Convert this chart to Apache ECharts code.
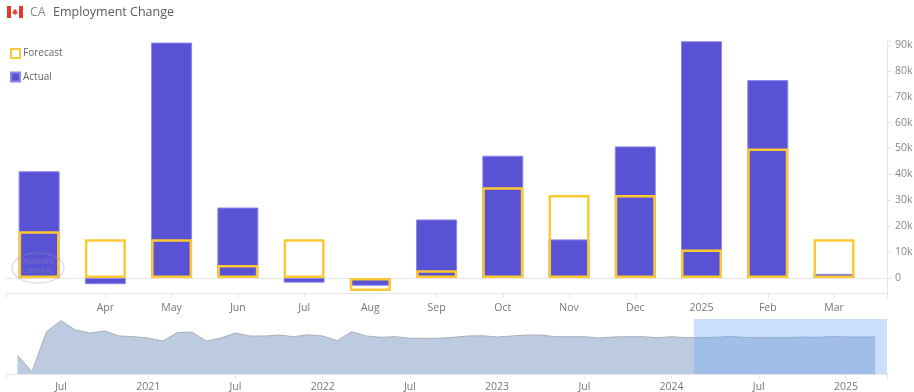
<!DOCTYPE html>
<html><head><meta charset="utf-8">
<style>html,body{margin:0;padding:0;background:#fff}#c{width:914px;height:392px}</style>
<script src="https://cdn.jsdelivr.net/npm/echarts@6/dist/echarts.min.js"></script>
</head><body><div id="c"></div>
<script>
const categories = ['', 'Apr', 'May', 'Jun', 'Jul', 'Aug', 'Sep', 'Oct', 'Nov', 'Dec', '2025', 'Feb', 'Mar'];
const actual = [41.2, -2.4, 90.9, 27.2, -1.8, -3, 22.6, 47.2, 14.9, 50.8, 91.4, 76.4, 1.6];
const forecast = [18, 15, 15, 5, 15, -5, 3, 35, 32, 32, 11, 50, 15];
const yTicks = [0, 10, 20, 30, 40, 50, 60, 70, 80, 90];
// overview strip, monthly from Apr 2020 to Mar 2025
const overview = [19, 2.3, 42.3, 53.3, 44, 41, 43, 38, 37.3, 36, 33, 41.3, 42, 33, 36, 41, 38, 38, 39, 37.3,
  39.3, 38, 33.3, 42.3, 38, 36.7, 37.3, 35.7, 35.7, 35.7, 36.7, 38, 38.3, 37, 38, 39, 39, 37.3, 37.3, 37.3,
  36, 37, 37.3, 37.3, 36.3, 37.3, 36.3, 36.3, 36.6, 37.6, 36.6, 36.3, 36.3, 36.3, 37, 36.5, 37.5, 37, 37, 37];
const overviewTicks = [[3, 'Jul'], [9, '2021'], [15, 'Jul'], [21, '2022'], [27, 'Jul'], [33, '2023'], [39, 'Jul'], [45, '2024'], [51, 'Jul'], [57, '2025']];

const font = '"Open Sans"';
const xMin = -0.5, xMax = 12.8, yMin = -5.8, yMax = 91.5;
const ovMin = -0.784, ovMax = 59.82, selStart = 46.54;
const leaf = [[15,8.5],[16,10.5],[17,10],[16.5,12.5],[18,12],[17.5,13.5],[15.4,14.1],[15.4,15.5],[14.6,15.5],[14.6,14.1],[12.5,13.5],[12,12],[13.5,12.5],[13,10],[14,10.5]];

const chart = echarts.init(document.getElementById('c'), null, {renderer: 'canvas'});
chart.setOption({
  animation: false,
  backgroundColor: '#fff',
  textStyle: {fontFamily: font},
  legend: {
    left: 10, top: 48, padding: 0, orient: 'vertical', icon: 'rect', itemWidth: 9, itemHeight: 9, itemGap: 12.5,
    data: ['Forecast', 'Actual'],
    textStyle: {fontFamily: font, fontSize: 10, color: '#666', padding: [0, 0, 0, -2]}
  },
  grid: [
    {left: 6, right: 27, top: 41, height: 252, outerBoundsMode: 'none'},
    {left: 6, right: 27, top: 319, height: 55, outerBoundsMode: 'none'}
  ],
  xAxis: [
    {
      type: 'value', gridIndex: 0, min: xMin, max: xMax, splitLine: {show: false},
      axisLine: {onZero: false, lineStyle: {color: '#e6e6e6'}},
      axisTick: {length: 5, lineStyle: {color: '#e6e6e6'}, customValues: [xMin].concat(categories.map((c, i) => i).slice(1), [xMax])},
      axisLabel: {
        customValues: categories.map((c, i) => i).slice(1), margin: 10, color: '#777', fontSize: 10.5, fontFamily: font,
        formatter: v => categories[Math.round(v)]
      }
    },
    {
      type: 'value', gridIndex: 1, min: ovMin, max: ovMax, splitLine: {show: false},
      axisLine: {onZero: false, lineStyle: {color: '#e6e6e6'}},
      axisTick: {length: 5, lineStyle: {color: '#e6e6e6'}, customValues: [ovMin].concat(overviewTicks.map(t => t[0]), [ovMax])},
      axisLabel: {
        customValues: overviewTicks.map(t => t[0]), margin: 8, color: '#777', fontSize: 10.5, fontFamily: font,
        formatter: v => (overviewTicks.find(t => t[0] === Math.round(v)) || [0, ''])[1]
      }
    }
  ],
  yAxis: [
    {
      type: 'value', gridIndex: 0, position: 'right', min: yMin, max: yMax, splitLine: {show: false},
      axisLine: {show: true, onZero: false, lineStyle: {color: '#e6e6e6'}},
      axisTick: {show: true, length: 4, lineStyle: {color: '#e6e6e6'}, customValues: yTicks.concat([yMax])},
      axisLabel: {
        customValues: yTicks, margin: 8, color: '#888', fontSize: 10.5, fontFamily: font,
        formatter: v => v === 0 ? '0' : v + 'k'
      }
    },
    {type: 'value', gridIndex: 1, min: 0, max: 55, show: false}
  ],
  series: [
    {
      name: 'Actual', type: 'bar', xAxisIndex: 0, yAxisIndex: 0, barWidth: 41, barGap: '-100%',
      data: actual.map((v, i) => [i, v]), z: 2,
      itemStyle: {color: '#5a52d5', borderColor: '#8a86ea', borderWidth: 1},
      markLine: {
        silent: true, symbol: 'none', label: {show: false}, animation: false, z: 1,
        lineStyle: {color: '#e6e6e6', width: 1, type: 'solid'}, data: [{yAxis: 0}]
      }
    },
    {
      name: 'Forecast', type: 'bar', xAxisIndex: 0, yAxisIndex: 0, barWidth: 41, barGap: '-100%',
      data: forecast.map((v, i) => [i, v]), z: 3,
      itemStyle: {color: 'rgba(255,255,255,0)', borderColor: '#fcc933', borderWidth: 2.5}
    },
    {
      name: 'Overview', type: 'line', xAxisIndex: 1, yAxisIndex: 1, symbol: 'none',
      data: overview.map((v, i) => [i, v]),
      lineStyle: {color: '#a9afba', width: 1},
      areaStyle: {color: '#bccbdf', opacity: 1},
      markArea: {
        silent: true, z: 5, itemStyle: {color: 'rgba(110,165,250,0.36)'},
        data: [[{xAxis: selStart, yAxis: 0}, {xAxis: ovMax, yAxis: 55}]]
      }
    }
  ],
  graphic: [
    {type: 'rect', shape: {x: 7, y: 6, width: 16, height: 12}, style: {fill: '#fff'}},
    {type: 'rect', shape: {x: 7, y: 6, width: 4, height: 12}, style: {fill: '#e03a2e'}},
    {type: 'rect', shape: {x: 19, y: 6, width: 4, height: 12}, style: {fill: '#e03a2e'}},
    {type: 'polygon', shape: {points: leaf}, style: {fill: '#e03a2e'}},
    {type: 'text', x: 30, y: 6, style: {text: 'CA', font: '12.5px ' + font, fill: '#8a8a8a'}},
    {type: 'text', x: 53, y: 6, style: {text: 'Employment Change', font: '12.5px ' + font, fill: '#5a5a5a'}},
    {type: 'ellipse', shape: {cx: 38, cy: 268, rx: 26, ry: 15}, z: 20, style: {fill: 'none', stroke: 'rgba(150,150,170,0.3)', lineWidth: 1.5}},
    {type: 'text', x: 38, y: 262, z: 20, style: {text: 'TRADING', align: 'center', verticalAlign: 'middle', font: 'bold 7px ' + font, fill: 'rgba(150,150,170,0.3)'}},
    {type: 'text', x: 38, y: 271, z: 20, style: {text: 'CENTRAL', align: 'center', verticalAlign: 'middle', font: 'bold 7px ' + font, fill: 'rgba(150,150,170,0.3)'}}
  ]
});
</script></body></html>
